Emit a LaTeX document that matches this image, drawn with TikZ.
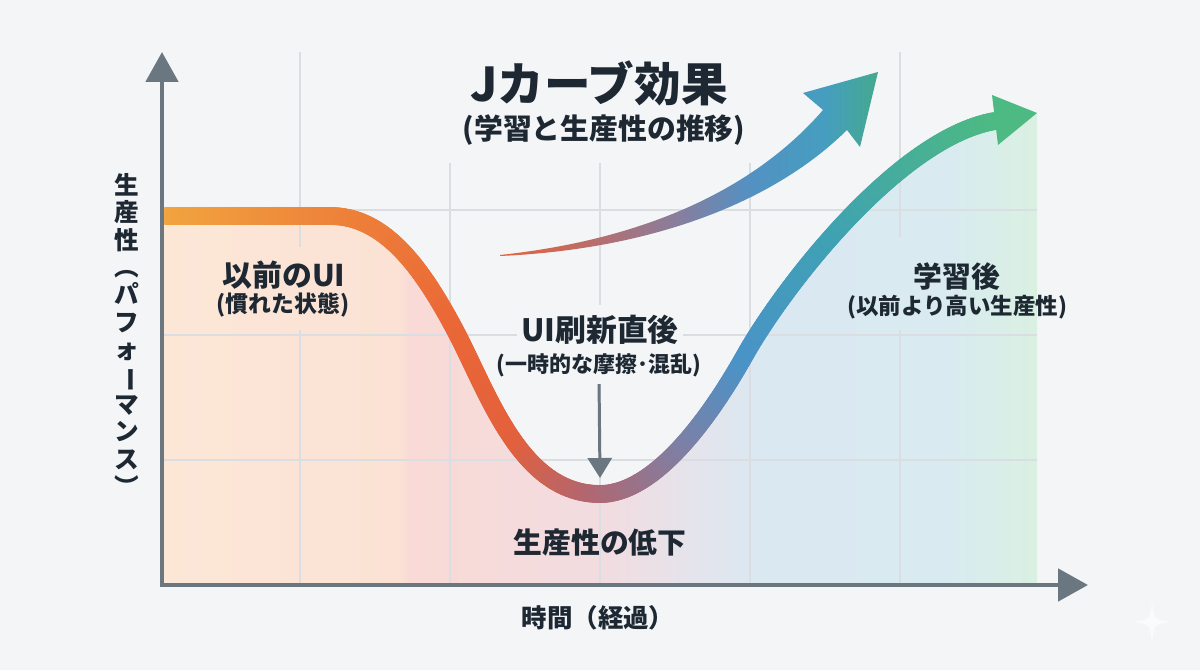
\documentclass[tikz,border=0pt]{standalone}
\usepackage{graphicx}
\usepackage{fontspec}
\setmainfont{Noto Sans CJK JP}
\usetikzlibrary{arrows.meta,decorations.markings}

% Colori
\definecolor{bgcol}{HTML}{F3F5F7}
\definecolor{axiscol}{HTML}{6B7780}
\definecolor{gridcol}{HTML}{DADEE3}
\definecolor{inkcol}{HTML}{1E2833}
\definecolor{sparkcol}{HTML}{FAFBFC}
% sfumatura sotto la curva
\definecolor{fA}{HTML}{FCE7D7}
\definecolor{fB}{HTML}{FBE2D4}
\definecolor{fC}{HTML}{F9DAD6}
\definecolor{fD}{HTML}{F2DCE0}
\definecolor{fE}{HTML}{E4E4EC}
\definecolor{fF}{HTML}{DAE8F1}
\definecolor{fG}{HTML}{D9EBF0}
\definecolor{fH}{HTML}{DAF0E2}
% curva J
\definecolor{jcA}{HTML}{F1A63F}
\definecolor{jcB}{HTML}{EE843A}
\definecolor{jcC}{HTML}{EA6836}
\definecolor{jcD}{HTML}{E3603C}
\definecolor{jcE}{HTML}{B3666F}
\definecolor{jcF}{HTML}{7D80A6}
\definecolor{jcG}{HTML}{4A93C8}
\definecolor{jcH}{HTML}{3FA1B4}
\definecolor{jcI}{HTML}{4DB983}
% freccia in alto
\definecolor{arA}{HTML}{E8633A}
\definecolor{arB}{HTML}{BE6C66}
\definecolor{arC}{HTML}{8A7D9C}
\definecolor{arD}{HTML}{5391C3}
\definecolor{arE}{HTML}{459EBF}
\definecolor{arF}{HTML}{44A98E}

\pgfdeclarehorizontalshading{underfill}{100bp}{color(0bp)=(fA); color(25bp)=(fA); color(38.5bp)=(fB); color(39.2bp)=(fC); color(50bp)=(fD); color(55.7bp)=(fE); color(59.2bp)=(fF); color(70bp)=(fG); color(75bp)=(fH); color(100bp)=(fH)}
\pgfdeclarehorizontalshading{risearrow}{100bp}{color(0bp)=(arA); color(25bp)=(arA); color(36bp)=(arB); color(48bp)=(arC); color(58bp)=(arD); color(68bp)=(arE); color(75bp)=(arF); color(100bp)=(arF)}

% Colore lungo la curva
\newcommand\curvestop[5]{%
  \pgfmathsetmacro\locpct{max(0,min(100,(#1-#2)/(#3-#2)*100))}%
  \colorlet{curvecol}{#5!\locpct!#4}}
\newcommand\setcurvecolor[1]{%
  \ifdim#1pt<15pt \curvestop{#1}{0}{15}{jcA}{jcB}%
  \else\ifdim#1pt<30pt \curvestop{#1}{15}{30}{jcB}{jcC}%
  \else\ifdim#1pt<42pt \curvestop{#1}{30}{42}{jcC}{jcD}%
  \else\ifdim#1pt<50pt \curvestop{#1}{42}{50}{jcD}{jcE}%
  \else\ifdim#1pt<60pt \curvestop{#1}{50}{60}{jcE}{jcF}%
  \else\ifdim#1pt<69pt \curvestop{#1}{60}{69}{jcF}{jcG}%
  \else\ifdim#1pt<82pt \curvestop{#1}{69}{82}{jcG}{jcH}%
  \else \curvestop{#1}{82}{100}{jcH}{jcI}%
  \fi\fi\fi\fi\fi\fi\fi}

% Carattere ruotato per la scrittura verticale
\newcommand\vrot[1]{\rotatebox[origin=c]{-90}{#1}}

% Percorso della curva J
\def\jpath{(0,7.38) -- (3.36,7.38) .. controls (4.46,7.38) and (5.2,6.34) .. (5.86,5.1)
  .. controls (6.52,3.86) and (7.16,1.82) .. (8.76,1.82)
  .. controls (9.72,1.82) and (10.76,3.0) .. (11.66,4.6)
  .. controls (12.46,6.02) and (14.76,8.96) .. (16.66,9.28)}

\begin{document}
\begin{tikzpicture}[
  axis/.style={draw=axiscol, line width=2.8pt, line join=miter,
    {Triangle[length=0.6cm,width=0.64cm]}-{Triangle[length=0.6cm,width=0.64cm]}},
  gridline/.style={draw=gridcol, line width=0.7pt},
  lab/.style={text=inkcol, inner sep=1pt, font=\bfseries\fontsize{17pt}{20pt}\selectfont},
  labsub/.style={text=inkcol, inner sep=1pt, font=\bfseries\fontsize{12.8pt}{15pt}\selectfont},
  droparrow/.style={draw=axiscol, line width=1.7pt, shorten <=3pt,
    -{Triangle[length=0.4cm,width=0.48cm]}},
  gradstroke/.style={decorate, decoration={markings,
    mark=between positions 0 and 1 step 1pt with {%
      \pgfmathsetmacro\pp{\pgfkeysvalueof{/pgf/decoration/mark info/distance from start}/\pgfdecoratedpathlength*100}%
      \setcurvecolor{\pp}%
      \fill[curvecol] (0,0) circle (0.18);}}}
]
% Sfondo
\fill[bgcol] (-3.24,-1.7) rectangle (20.76,11.7);

% Area sotto la curva
\shade[shading=underfill] \jpath -- (17.5,9.44) -- (17.5,0) -- (0,0) -- cycle;

% Griglia
\foreach \gx/\ya/\yb in {2.76/0/5.1, 2.76/6.76/10.66, 5.76/0/8.44, 8.76/0/4.0,
    8.76/5.6/8.44, 11.76/0/8.44, 14.76/0/5.1, 14.76/6.96/10.66}
  \draw[gridline] (\gx,\ya) -- (\gx,\yb);
\foreach \gy/\xa/\xb in {7.5/0/17.5, 5.0/0/7.1, 5.0/10.42/17.5, 2.5/0/17.5}
  \draw[gridline] (\xa,\gy) -- (\xb,\gy);

% Assi
\draw[axis] (0,10.66) -- (0,0) -- (18.52,0);

% Curva J con sfumatura
\begin{scope}
  \clip (0.05,-1.7) rectangle (20.76,11.7);
  \path[gradstroke] \jpath;
\end{scope}
\fill[jcI] (16.6,9.8) -- (17.5,9.44) -- (16.72,8.8) -- cycle;

% Freccia di crescita
\shade[shading=risearrow] (6.76,6.6) .. controls (9.56,6.9) and (11.8,7.86) .. (13.22,9.5)
  -- (12.82,9.84) -- (14.32,10.26) -- (13.96,8.76) -- (13.7,9.1)
  .. controls (12.12,7.54) and (9.56,6.7) .. (6.76,6.58) -- cycle;

% Titolo
\node[text=inkcol, font=\bfseries\fontsize{26.5pt}{30pt}\selectfont] (title) at (8.74,10.04) {Jカーブ効果};
\node[text=inkcol, font=\bfseries\fontsize{16.4pt}{19pt}\selectfont] (subtitle) at (8.84,9.1) {(学習と生産性の推移)};

% Etichette
\node[lab] (oldui) at (2.44,6.2) {以前のUI};
\node[labsub, font=\bfseries\fontsize{13pt}{15pt}\selectfont] (oldsub) at (2.42,5.6) {(慣れた状態)};
\node[lab, font=\bfseries\fontsize{17.5pt}{20pt}\selectfont] (newui) at (8.76,5.1) {UI刷新直後};
\node[labsub, font=\bfseries\fontsize{12.5pt}{15pt}\selectfont] (newsub) at (8.74,4.4) {(一時的な摩擦･混乱)};
\node[lab, font=\bfseries\fontsize{16.4pt}{19pt}\selectfont] (dropl) at (8.76,0.84) {生産性の低下};
\node[lab, font=\bfseries\fontsize{16.4pt}{19pt}\selectfont] (afterl) at (15.9,6.16) {学習後};
\node[labsub] (aftersub) at (15.9,5.56) {(以前より高い生産性)};

% Freccia verso il minimo
\coordinate (dip) at (8.76,2.14);
\draw[droparrow] (newsub.south) -- (dip);

% Titoli degli assi
\node[text=inkcol, font=\bfseries\fontsize{14.5pt}{17pt}\selectfont] (xlabel) at (8.72,-0.66) {時間（経過）};
\node[text=inkcol, align=center, inner sep=0pt, font=\bfseries\fontsize{14pt}{15.6pt}\selectfont] (ylabel) at (-0.7,4.98)
  {生\\産\\性\\\vrot{（}\\パ\\フ\\ォ\\\vrot{ー}\\マ\\ン\\ス\\\vrot{）}};

% Marchio
\fill[sparkcol] (19.8,-0.32) .. controls (19.84,-0.7) .. (20.22,-0.74) .. controls (19.84,-0.78) .. (19.8,-1.16)
  .. controls (19.76,-0.78) .. (19.38,-0.74) .. controls (19.76,-0.7) .. (19.8,-0.32) -- cycle;
\end{tikzpicture}
\end{document}
